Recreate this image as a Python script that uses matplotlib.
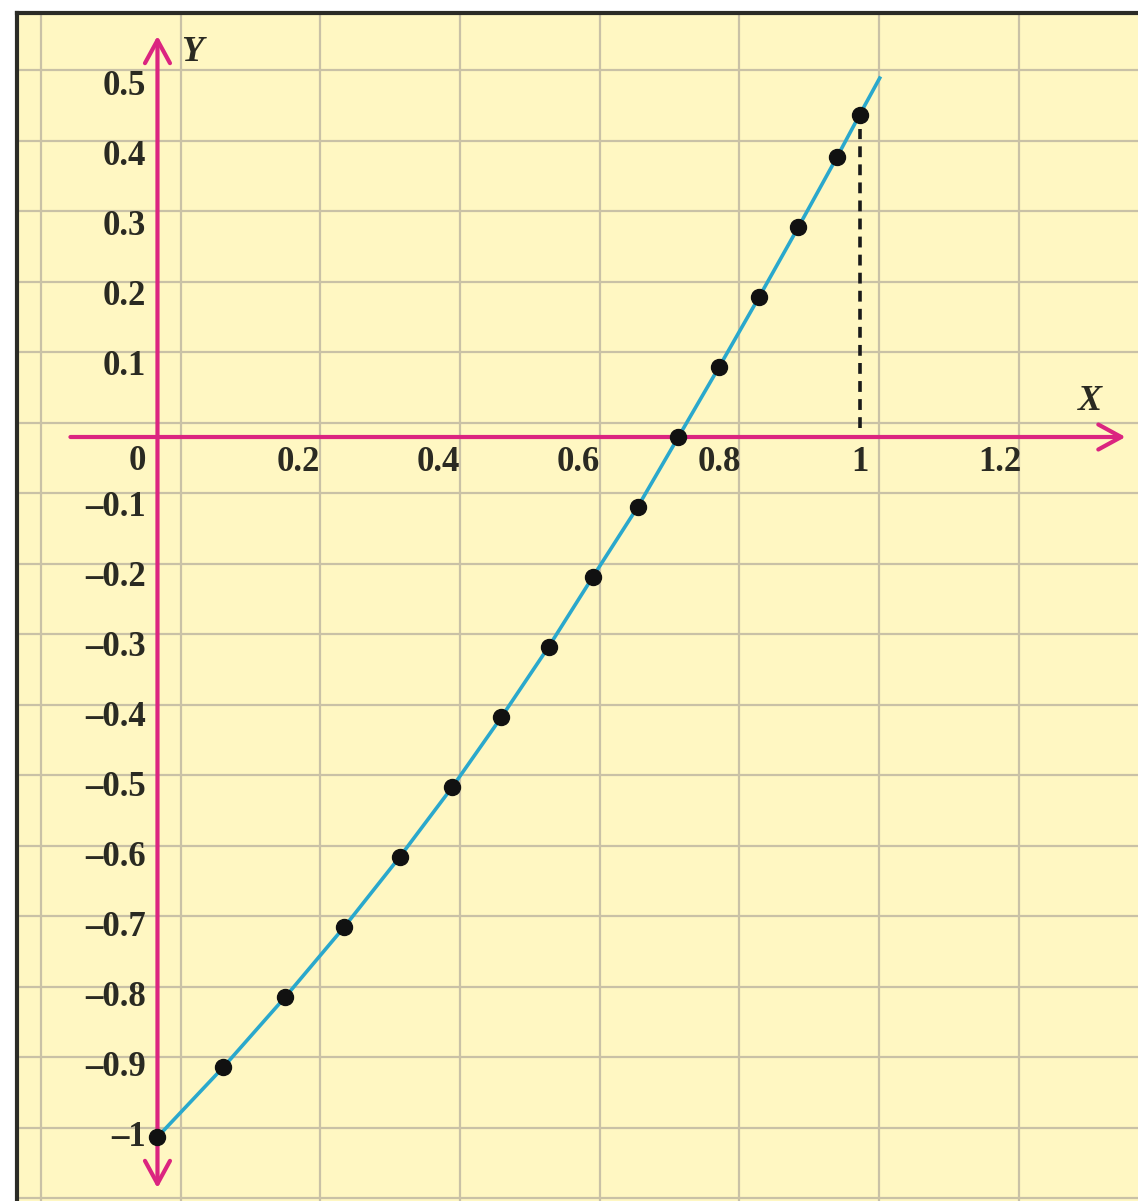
import numpy as np
import matplotlib.pyplot as plt

# sampled points of the curve (x, y)
dot_x = [0, 0.094, 0.182, 0.266, 0.345, 0.42, 0.49, 0.557, 0.62, 0.684,
         0.742, 0.8, 0.857, 0.913, 0.968, 1.0]
dot_y = [-1, -0.9, -0.8, -0.7, -0.6, -0.5, -0.4, -0.3, -0.2, -0.1,
         0, 0.1, 0.2, 0.3, 0.4, 0.46]
# curve runs a little past the last point
curve_x = dot_x + [1.03]
curve_y = dot_y + [0.515]

x_ticks = [0.2, 0.4, 0.6, 0.8, 1, 1.2]
x_tick_labels = ["0.2", "0.4", "0.6", "0.8", "1", "1.2"]
y_ticks = [0.5, 0.4, 0.3, 0.2, 0.1, -0.1, -0.2, -0.3, -0.4, -0.5,
           -0.6, -0.7, -0.8, -0.9, -1]
y_tick_labels = ["0.5", "0.4", "0.3", "0.2", "0.1", "\u20130.1", "\u20130.2",
                 "\u20130.3", "\u20130.4", "\u20130.5", "\u20130.6", "\u20130.7",
                 "\u20130.8", "\u20130.9", "\u20131"]

PAPER = "#FFF7C2"
GRID = "#C9C1A6"
PINK = "#DB2580"
CYAN = "#2AA8CC"
SERIF = "Liberation Serif"

W, H = 1138, 1201
fig = plt.figure(figsize=(W / 100, H / 100), dpi=100)
fig.patch.set_facecolor("white")
ax = fig.add_axes([17 / W, 0, (W - 17) / W, (H - 13) / H])
ax.set_facecolor(PAPER)
ax.set_xlim(-0.2001, 1.3967)
ax.set_ylim(-1.0914, 0.6057)
ax.set_xticks([])
ax.set_yticks([])
for side in ("right", "bottom"):
    ax.spines[side].set_visible(False)
for side in ("left", "top"):
    ax.spines[side].set_color("#2b2b26")
    ax.spines[side].set_linewidth(3)

# graph-paper grid (not aligned with the axes)
for gx in np.arange(-0.166, 1.40, 0.199):
    ax.axvline(gx, color=GRID, lw=1.6, zorder=1)
for gy in np.arange(0.524, -1.1, -0.1007):
    ax.axhline(gy, color=GRID, lw=1.6, zorder=1)

# coordinate axes with arrow heads
arrow = dict(arrowstyle="->,head_length=0.55,head_width=0.3", color=PINK,
             lw=3, mutation_scale=30, shrinkA=0, shrinkB=0)
ax.annotate("", xy=(1.379, 0), xytext=(-0.124, 0), arrowprops=arrow, zorder=3)
ax.annotate("", xy=(0, 0.573), xytext=(0, 0), arrowprops=arrow, zorder=3)
ax.annotate("", xy=(0, -1.073), xytext=(0, 0), arrowprops=arrow, zorder=3)

# dashed drop line at x = 1
ax.plot([dot_x[-1], dot_x[-1]], [0.013, dot_y[-1] - 0.02], color="#1a1a1a",
        lw=2.6, ls=(0, (3, 2)), zorder=2)

ax.plot(curve_x, curve_y, color=CYAN, lw=2.6, zorder=4, solid_capstyle="butt")
ax.plot(dot_x, dot_y, "o", color="#111111", ms=11.5, zorder=5)

label_kw = dict(fontfamily=SERIF, fontweight="bold", fontsize=25, color="#2a2a22")
for xv, lab in zip(x_ticks, x_tick_labels):
    ax.text(xv, -0.037, lab, ha="center", va="center", **label_kw)
for yv, lab in zip(y_ticks, y_tick_labels):
    ax.text(-0.016, yv, lab, ha="right", va="center", **label_kw)
ax.text(-0.016, -0.035, "0", ha="right", va="center", **label_kw)

ax.text(1.329, 0.051, "X", ha="center", va="center", style="italic",
        fontfamily=SERIF, fontweight="bold", fontsize=26, color="#2a2a22")
ax.text(0.049, 0.549, "Y", ha="center", va="center", style="italic",
        fontfamily=SERIF, fontweight="bold", fontsize=26, color="#2a2a22")

fig.savefig("out.png", dpi=100)
